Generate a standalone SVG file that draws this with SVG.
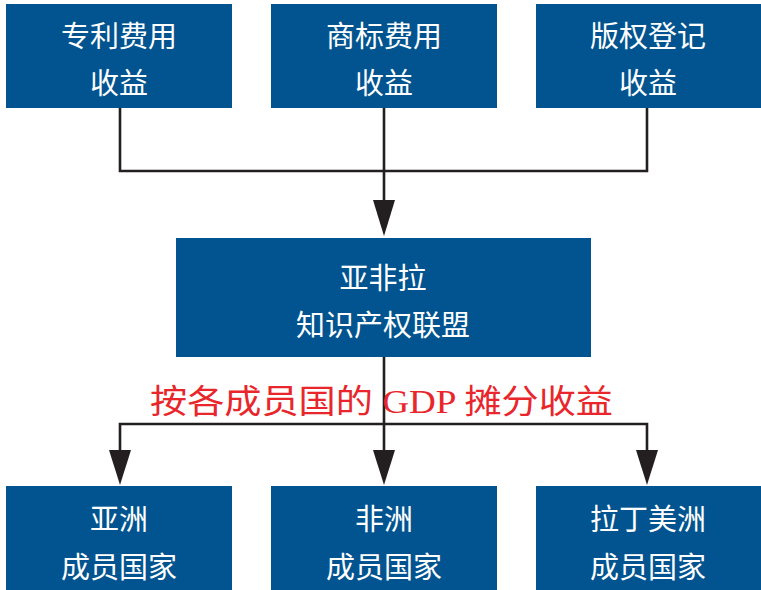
<svg xmlns="http://www.w3.org/2000/svg" width="761" height="590" viewBox="0 0 761 590">
<style>
.box{fill:#01548f}
.t{fill:#ffffff;font-family:"Noto Sans CJK SC","Noto Sans",sans-serif;font-size:29px;text-anchor:middle;dominant-baseline:central}
.ln{stroke:#231f20;stroke-width:2.6;fill:none}
.ah{fill:#231f20}
.red{fill:#e8262b;font-family:"Liberation Serif","Noto Sans CJK SC",serif;font-size:33px}
</style>
<rect width="761" height="590" fill="#ffffff"/>
<g id="connectors">
<path class="ln" d="M120 108V171H647V108M384 108V202"/>
<polygon class="ah" points="373,200 395,200 384,236"/>
<path class="ln" d="M384 357V452M120 452V424H647V452"/>
<polygon class="ah" points="109,450 131,450 120,485"/>
<polygon class="ah" points="373,450 395,450 384,485"/>
<polygon class="ah" points="636,450 658,450 647,485"/>
</g>
<g id="n1"><rect class="box" x="6" y="4" width="226" height="104"/><text class="t" x="119" y="34">专利费用</text><text class="t" x="119" y="81">收益</text></g>
<g id="n2"><rect class="box" x="271" y="4" width="226" height="104"/><text class="t" x="384" y="34">商标费用</text><text class="t" x="384" y="81">收益</text></g>
<g id="n3"><rect class="box" x="536" y="4" width="225" height="104"/><text class="t" x="648" y="34">版权登记</text><text class="t" x="648" y="81">收益</text></g>
<g id="center"><rect class="box" x="176" y="238" width="415" height="119"/><text class="t" x="383" y="276">亚非拉</text><text class="t" x="383" y="323">知识产权联盟</text></g>
<g id="label"><text class="red" x="150" y="413" textLength="463" lengthAdjust="spacingAndGlyphs">按各成员国的 GDP 摊分收益</text></g>
<g id="b1"><rect class="box" x="6" y="486" width="226" height="104"/><text class="t" x="119" y="517">亚洲</text><text class="t" x="119" y="565">成员国家</text></g>
<g id="b2"><rect class="box" x="271" y="486" width="226" height="104"/><text class="t" x="384" y="517">非洲</text><text class="t" x="384" y="565">成员国家</text></g>
<g id="b3"><rect class="box" x="536" y="486" width="225" height="104"/><text class="t" x="648" y="517">拉丁美洲</text><text class="t" x="648" y="565">成员国家</text></g>
</svg>
